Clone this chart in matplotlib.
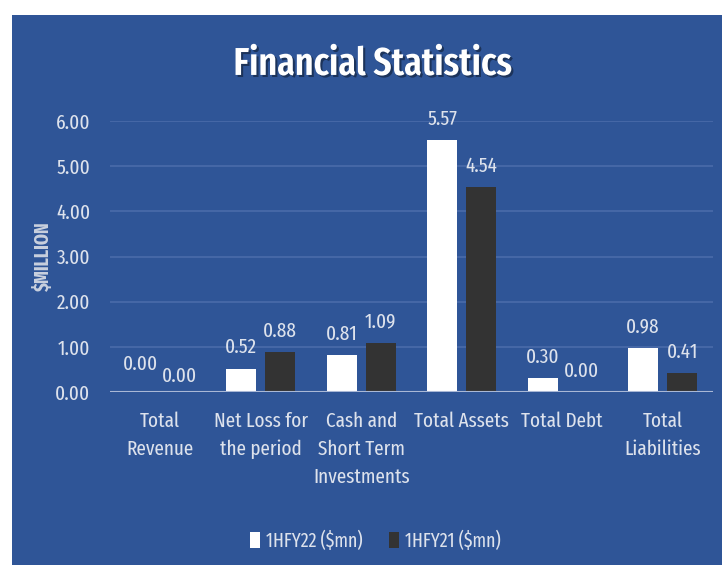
import numpy as np
import matplotlib
matplotlib.use('Agg')
import matplotlib.pyplot as plt
import matplotlib.patheffects as pe
from matplotlib.patches import Rectangle

plt.rcParams['font.family'] = ['Fira Sans Extra Condensed', 'Fira Sans Condensed', 'DejaVu Sans']

categories = ['Total\nRevenue', 'Net Loss for\nthe period', 'Cash and\nShort Term\nInvestments',
              'Total Assets', 'Total Debt', 'Total\nLiabilities']
fy22 = [0.00, 0.52, 0.81, 5.57, 0.30, 0.98]
fy21 = [0.00, 0.88, 1.09, 4.54, 0.00, 0.41]
series_names = ['1HFY22 ($mn)', '1HFY21 ($mn)']
yticks = [0, 1, 2, 3, 4, 5, 6]

bg = '#2F5597'
txt = '#DDE2EC'

fig = plt.figure(figsize=(7.22, 5.67), dpi=100)
fig.patch.set_facecolor('white')
fig.add_artist(Rectangle((12 / 722, 2 / 567), 710 / 722, 550 / 567,
                         transform=fig.transFigure, facecolor=bg, edgecolor='none', zorder=0))

ax = fig.add_axes([110 / 722, 1 - 392 / 567, 603 / 722, 271 / 567])
ax.patch.set_alpha(0)

x = np.arange(len(categories))
w = 0.30
off = 0.195
b1 = ax.bar(x - off, fy22, w, color='white', label=series_names[0], zorder=3)
b2 = ax.bar(x + off, fy21, w, color='#333333', label=series_names[1], zorder=3)

# excel nudged the two zero labels of the first group apart
for bars, vals, lift in ((b1, fy22, 20), (b2, fy21, 11)):
    for i, (r, v) in enumerate(zip(bars, vals)):
        dy = lift if i == 0 else 15
        ax.annotate(f'{v:.2f}', (r.get_x() + r.get_width() / 2, r.get_height()),
                    xytext=(0, dy), textcoords='offset points', ha='center', va='center',
                    fontsize=15, color=txt)

ax.set_xlim(-0.5, len(categories) - 0.5)
ax.set_ylim(0, 6)
ax.set_yticks(yticks)
ax.set_yticklabels([f'{t:.2f}' for t in yticks], fontsize=15, color=txt)
ax.set_xticks(x)
ax.set_xticklabels(categories, fontsize=15, color=txt, linespacing=1.55)
ax.tick_params(axis='both', length=0)
ax.tick_params(axis='y', pad=14)
ax.tick_params(axis='x', pad=14)
ax.yaxis.grid(True, color='#4A6BAA', linewidth=1.2, zorder=0)
for s in ax.spines.values():
    s.set_visible(False)
ax.axhline(0, color='#A9B8D6', linewidth=1.5, zorder=4)

ax.set_ylabel('$MILLION', fontsize=14, fontweight='bold', color='#C9D0DE')
ax.yaxis.set_label_coords(-0.095, 0.5)

fig.text(0.516, 0.886, 'Financial Statistics', ha='center', va='center', fontsize=28,
         fontweight='semibold', color='white',
         path_effects=[pe.withSimplePatchShadow(offset=(1.5, -1.5), shadow_rgbFace='black', alpha=0.4)])

leg = fig.legend(handles=[b1, b2], labels=series_names, loc='center', bbox_to_anchor=(0.52, 0.046),
                 ncol=2, frameon=False, fontsize=14, handlelength=0.5, handleheight=0.9,
                 handletextpad=0.3, columnspacing=1.4)
for t in leg.get_texts():
    t.set_color(txt)

fig.savefig('out.png', dpi=100, facecolor=fig.get_facecolor())
